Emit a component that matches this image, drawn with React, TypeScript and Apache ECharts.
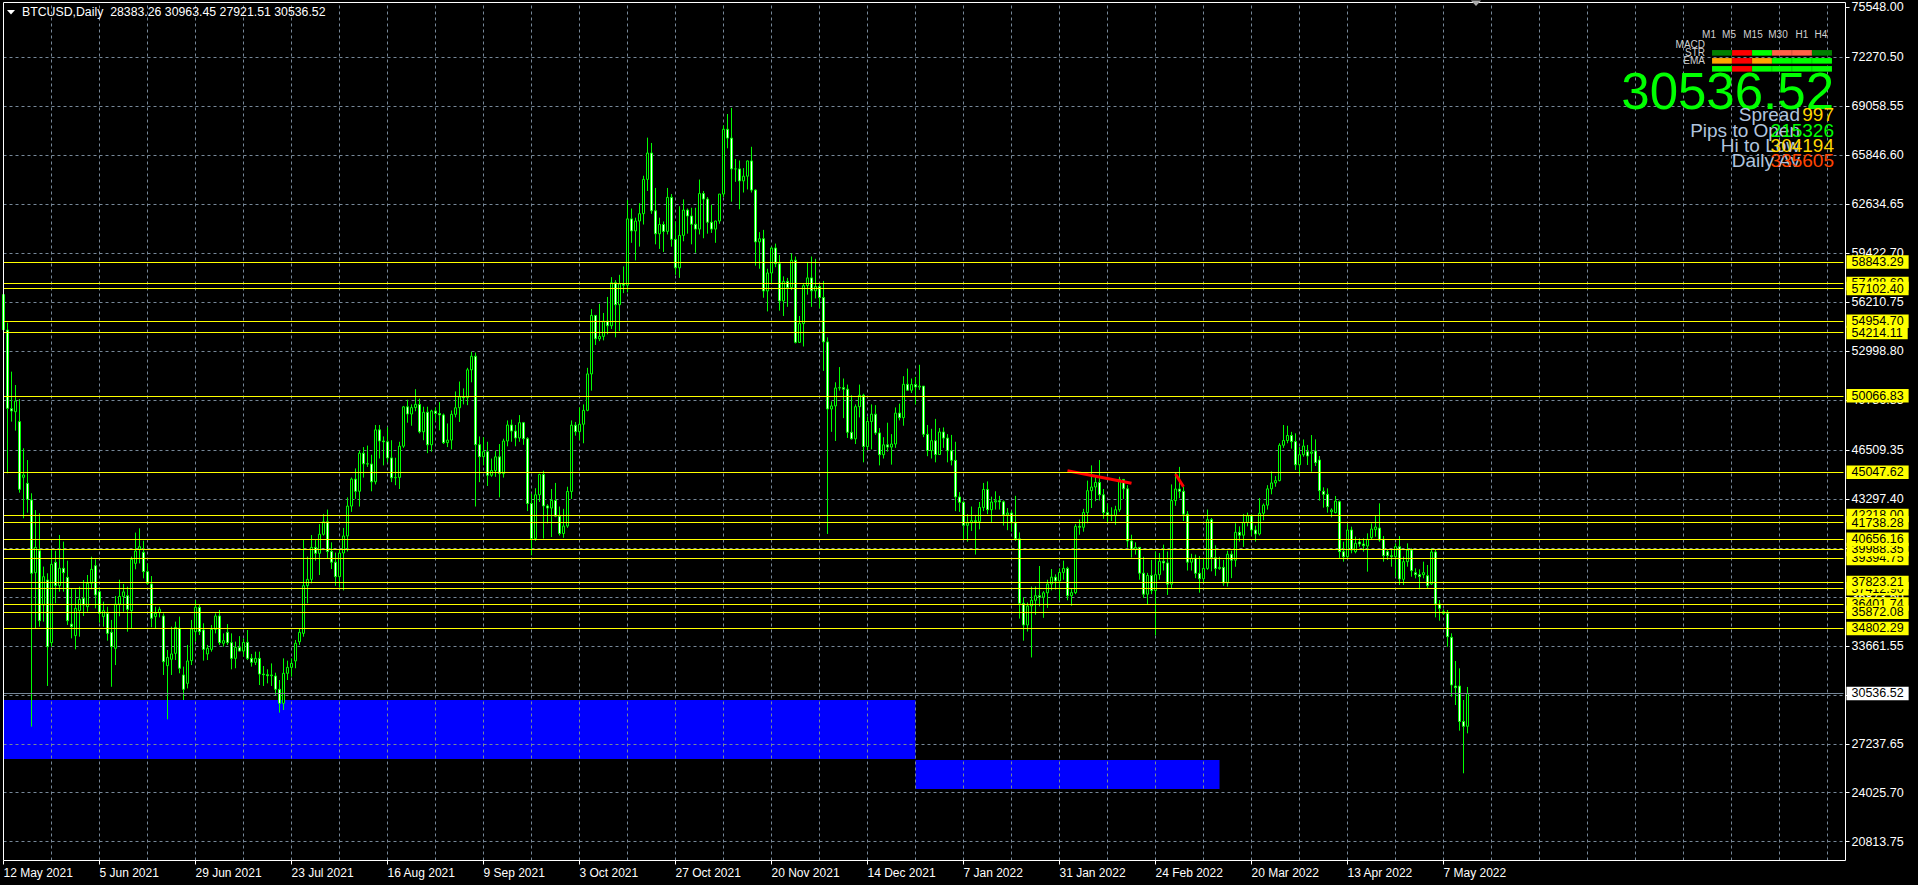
import React, { useEffect, useRef } from 'react';
import * as echarts from 'echarts';

const FONT = '"Liberation Sans", Arial, sans-serif';
const SYMBOL_TITLE = 'BTCUSD,Daily';
const LAST_OHLC = ['28383.26', '30963.45', '27921.51', '30536.52'];
const BID = 30536.52;
const START = [2021, 4, 12];
const TOTAL_SLOTS = 461;
const MONTHS = ['Jan', 'Feb', 'Mar', 'Apr', 'May', 'Jun', 'Jul', 'Aug', 'Sep', 'Oct', 'Nov', 'Dec'];

// [open, high, low, close]
const MAY_2021 = [
  [56700, 57700, 53900, 54400], [54380, 54860, 44980, 49240], [49220, 51650, 48370, 49070], [49020, 50770, 47780, 49720],
  [48370, 49850, 43710, 43930], [44720, 46620, 42030, 44870], [44320, 45850, 42400, 43270], [43230, 43670, 28360, 38420],
  [38460, 42570, 34810, 40120], [39900, 42350, 34920, 35310], [36340, 38860, 35250, 38200], [37980, 38420, 31030, 33610],
  [33870, 39950, 33610, 39010], [39140, 39900, 36450, 37610], [37610, 40930, 37215, 38750], [38750, 40500, 37215, 38460],
  [38155, 39250, 35030, 35310], [35090, 37430, 34150, 34920], [34330, 37370, 33430, 36120], [35970, 37540, 34260, 36710],
];
const JUN_2021 = [
  [36780, 37980, 35620, 36340], [36230, 38310, 35900, 37760], [37760, 39510, 37370, 38680], [38920, 39340, 36120, 37000],
  [37215, 37500, 35180, 35790], [35580, 36560, 34920, 35970], [35790, 36230, 34000, 34480], [34550, 35360, 30980, 33610],
  [33500, 36930, 32400, 36400], [36400, 38000, 35600, 36900], [36900, 37720, 35900, 37200], [36950, 37540, 34590, 36060],
  [35970, 39510, 34810, 39340], [39074, 41090, 38680, 39883], [39990, 41370, 39070, 40170], [39800, 40560, 38090, 38530],
  [38530, 39070, 37650, 37760], [37720, 38240, 34880, 35470], [35580, 36230, 34810, 35790], [35840, 36230, 35530, 36060],
  [35620, 35790, 31750, 32620], [32360, 33390, 28840, 32900], [32780, 34920, 31750, 33130], [33170, 35250, 32730, 34870],
  [34810, 35580, 31860, 32190], [31750, 32300, 30110, 30810], [31200, 33720, 30870, 32670], [32690, 35360, 32400, 34770],
  [34590, 36670, 33940, 36190], [36190, 36400, 34370, 34590],
];
const JUL_2021 = [
  [34700, 35140, 32690, 33430], [33130, 33720, 32730, 33500], [33430, 35030, 33280, 34740], [34740, 35790, 34480, 35620],
  [35620, 36010, 33720, 33870], [33830, 34480, 33610, 34000], [34550, 35090, 33720, 33870], [33870, 34480, 32120, 32840],
  [32840, 33940, 32190, 33560], [33560, 34300, 33300, 33320], [33320, 34150, 32950, 33890], [33890, 34700, 32730, 32840],
  [32840, 33130, 32300, 32580], [32580, 33280, 32400, 32840], [32840, 33280, 31090, 31810], [31810, 32340, 31030, 31770],
  [31770, 32120, 31200, 31700], [31700, 32510, 31030, 31750], [31680, 31900, 30440, 30810], [30810, 31420, 29280, 29890],
  [29890, 32840, 29450, 31860], [31860, 32690, 31420, 32250], [32250, 32840, 31640, 32510], [32670, 34040, 32190, 33830],
  [33930, 34810, 33720, 34550], [34480, 40650, 34260, 37610], [37610, 39510, 36450, 38020], [38020, 40930, 37760, 40120],
  [40120, 40600, 39250, 39730], [39730, 41650, 38310, 40980], [40980, 42300, 40900, 41800],
];
const AUG_2021 = [
  [41800, 42600, 39400, 39850], [39850, 40450, 38700, 39150], [39150, 39780, 37600, 38200], [38200, 39970, 37500, 39750],
  [39750, 41400, 37300, 40870], [40870, 43400, 39850, 42830], [42830, 44700, 42450, 44600], [44600, 45300, 43300, 43800],
  [43800, 46450, 42800, 46300], [46300, 46700, 44700, 45600], [45600, 46800, 45400, 45590], [45590, 46200, 43800, 44420],
  [44420, 48150, 44250, 47830], [47830, 48150, 45950, 47100], [47100, 47400, 45500, 47050], [47050, 48000, 45700, 45990],
  [45990, 47150, 44400, 44690], [44690, 46000, 44200, 44710], [44710, 47050, 43950, 46760], [46760, 49400, 46650, 49340],
  [49340, 49800, 48300, 48870], [48870, 49500, 48100, 49290], [49290, 50500, 49050, 49500], [49500, 49880, 47600, 47700],
  [47700, 49350, 47150, 48990], [48990, 49350, 46300, 46850], [46850, 49150, 46400, 49070], [49070, 49300, 48400, 48900],
  [48900, 49650, 47800, 48810], [48810, 48900, 46900, 46990], [46990, 48250, 46700, 47160],
];
const SEP_2021 = [
  [47160, 49100, 46550, 48850], [48850, 50350, 48650, 49280], [49280, 51000, 48350, 50000], [50000, 50550, 49500, 49940],
  [49940, 51900, 49450, 51770], [51770, 52950, 50950, 52660], [52660, 52900, 42800, 46860], [46860, 47400, 44400, 46070],
  [46070, 47350, 45500, 46400], [46400, 47050, 44150, 44850], [44850, 45950, 44750, 45160], [45160, 46450, 44750, 46060],
  [46060, 46900, 43400, 44960], [44960, 47250, 44700, 47100], [47100, 48450, 46750, 48150], [48150, 48500, 47050, 47750],
  [47750, 48150, 46750, 47300], [47300, 48800, 47050, 48300], [48300, 48350, 46850, 47250], [47250, 47350, 42500, 43000],
  [43000, 43650, 39600, 40700], [40700, 44000, 40550, 43570], [43570, 44950, 43100, 44900], [44900, 45150, 40700, 42840],
  [42840, 42950, 41700, 42700], [42700, 43950, 40800, 43200], [43200, 44350, 42100, 42170], [42170, 42800, 40900, 41030],
  [41030, 42650, 40750, 41520], [41520, 44100, 41400, 43790],
];
const OCT_2021 = [
  [43790, 48450, 43300, 48140], [48140, 48350, 47450, 47710], [47710, 49300, 47150, 48200], [48200, 49500, 46950, 49110],
  [49110, 51900, 49050, 51500], [51500, 55750, 50400, 55340], [55340, 55350, 53400, 53800], [53800, 56100, 53650, 53960],
  [53960, 55500, 53700, 54960], [54960, 56550, 54100, 54660], [54660, 57850, 54450, 57480], [57480, 57650, 53900, 56040],
  [56040, 58000, 54300, 57400], [57400, 58550, 56800, 57320], [57320, 62900, 56850, 61670], [61670, 62350, 60100, 60880],
  [60880, 61750, 58950, 61530], [61530, 62700, 59850, 62010], [62010, 64500, 61300, 64260], [64260, 67000, 63500, 65990],
  [65990, 66650, 62000, 62200], [62200, 63700, 60000, 60690], [60690, 61750, 59700, 61300], [61300, 61500, 59500, 60850],
  [60850, 63700, 60650, 63080], [63080, 63300, 59850, 60330], [60330, 61500, 58000, 58460], [58460, 62500, 57800, 60590],
  [60590, 62950, 60200, 62250], [62250, 62350, 60700, 61860], [61860, 62400, 60000, 61320],
];
const NOV_2021 = [
  [61320, 62400, 59450, 61000], [61000, 64250, 60650, 63330], [63330, 63500, 60400, 62970], [62970, 63100, 60700, 61450],
  [61450, 62600, 60750, 61000], [61000, 61550, 60100, 61530], [61530, 63300, 61350, 63300], [63300, 67800, 63100, 67550],
  [67550, 68550, 66300, 66970], [66970, 68950, 62800, 64950], [64950, 65600, 64100, 64950], [64950, 65500, 62300, 64160],
  [64160, 65000, 63400, 64470], [64470, 65500, 63600, 65470], [65470, 66400, 63400, 63560], [63560, 63600, 58600, 60160],
  [60160, 60800, 58400, 60370], [60370, 60950, 56500, 56940], [56940, 58400, 55600, 58120], [58120, 59850, 57400, 59760],
  [59760, 60050, 58500, 58730], [58730, 59300, 55650, 56290], [56290, 57900, 55300, 57570], [57570, 57800, 55900, 57170],
  [57170, 59400, 57000, 58960], [58960, 59200, 53500, 53570], [53570, 55300, 53550, 54800], [54800, 57400, 53300, 57290],
  [57290, 58850, 56700, 57800], [57800, 59200, 55900, 56950],
];
const DEC_2021 = [
  [56950, 59050, 56450, 57230], [57230, 57400, 55800, 56510], [56510, 57600, 51700, 53600], [53600, 53900, 41000, 49200],
  [49200, 49700, 47700, 49400], [49400, 50950, 47100, 50580], [50580, 51950, 50400, 50600], [50600, 51200, 48600, 50500],
  [50500, 50800, 47300, 47670], [47670, 50100, 47200, 47240], [47240, 49500, 46900, 49350], [49350, 50800, 48650, 50100],
  [50100, 50200, 45700, 46740], [46740, 48700, 46500, 48380], [48380, 49500, 46550, 48860], [48860, 49450, 47500, 47630],
  [47630, 47950, 45500, 46200], [46200, 47350, 45950, 46850], [46850, 48300, 46400, 46700], [46700, 47550, 45550, 46900],
  [46900, 49300, 46650, 48930], [48930, 49550, 48450, 48630], [48630, 51350, 48100, 50820], [50820, 51850, 50450, 50430],
  [50430, 51200, 50250, 50800], [50800, 51300, 49500, 50640], [50640, 52100, 50450, 50700], [50700, 50700, 47350, 47540],
  [47540, 48150, 46100, 46470], [46470, 47900, 45950, 47120], [47120, 48550, 45700, 46210],
];
const JAN_2022 = [
  [46210, 47950, 46200, 47690], [47690, 47990, 46650, 47290], [47290, 47550, 45700, 46460], [46460, 47500, 45500, 45830],
  [45830, 47050, 42500, 43430], [43430, 43750, 42450, 43080], [43080, 43150, 40600, 41570], [41570, 42300, 40500, 41730],
  [41730, 42800, 41200, 41870], [41870, 42250, 39650, 41820], [41820, 43100, 41300, 42740], [42740, 44350, 42500, 43920],
  [43920, 44450, 42300, 42590], [42590, 43450, 41750, 43100], [43100, 43800, 42600, 43180], [43180, 43500, 42600, 43110],
  [43110, 43200, 41550, 42250], [42250, 42700, 41250, 42375], [42375, 42550, 41150, 41740], [41740, 43500, 40550, 40680],
  [40680, 41100, 35450, 36450], [36450, 36850, 34000, 35030], [35030, 36500, 34600, 36280], [36280, 37550, 32900, 36650],
  [36650, 37550, 35700, 36950], [36950, 38900, 36250, 36850], [36850, 37250, 35500, 37140], [37140, 38000, 36150, 37720],
  [37720, 38700, 37300, 38170], [38170, 38350, 37350, 37920], [37920, 38750, 36650, 38480],
];
const FEB_2022 = [
  [38480, 39250, 38000, 38740], [38740, 38850, 36650, 36950], [36950, 37400, 36300, 37150], [37150, 41650, 37050, 41500],
  [41500, 41950, 40950, 41440], [41440, 42650, 41150, 42410], [42410, 44500, 41700, 43840], [43840, 45500, 42700, 44080],
  [44080, 44800, 43150, 44380], [44380, 45850, 43200, 43570], [43570, 43950, 42000, 42400], [42400, 43000, 41750, 42240],
  [42240, 42750, 41850, 42200], [42200, 42850, 41600, 42590], [42590, 44750, 42450, 44580], [44580, 44580, 43300, 43960],
  [43960, 44200, 40100, 40540], [40540, 40950, 39450, 40000], [40000, 40450, 39650, 40120], [40120, 40150, 38000, 38430],
  [38430, 39500, 36800, 37050], [37050, 38450, 36400, 38280], [38280, 39300, 37050, 37290], [37290, 39850, 34350, 38330],
  [38330, 39750, 38000, 39210], [39210, 40300, 38600, 39100], [39100, 39850, 37000, 37710], [37710, 44250, 37450, 43190],
];
const MAR_2022 = [
  [43190, 45000, 42850, 43950], [43950, 45400, 43350, 43800], [43800, 44100, 41850, 42300], [42300, 42500, 38600, 39150],
  [39150, 39700, 38600, 39400], [39400, 39650, 38100, 38420], [38420, 39550, 37150, 38060], [38060, 39350, 37850, 38740],
  [38740, 42600, 38650, 41940], [41940, 42050, 38550, 39440], [39440, 40250, 38250, 38730], [38730, 39500, 38650, 38810],
  [38810, 39300, 37600, 37790], [37790, 39900, 37550, 39670], [39670, 39900, 38100, 39280], [39280, 41700, 38850, 41110],
  [41110, 41500, 40500, 40920], [40920, 42300, 40150, 41760], [41760, 42400, 41500, 42200], [42200, 42300, 40900, 41260],
  [41260, 41550, 40500, 41000], [41000, 43350, 40900, 42360], [42360, 43000, 41900, 42890], [42890, 44200, 42600, 43960],
  [43960, 45100, 43600, 44350], [44350, 44800, 44100, 44500], [44500, 46950, 44450, 46820], [46820, 48150, 46650, 47130],
  [47130, 48100, 46950, 47460], [47460, 47700, 46600, 47060], [47060, 47600, 45200, 45540],
];
const APR_2022 = [
  [45540, 46700, 44900, 46200], [46200, 47200, 46070, 46770], [46400, 46840, 45525, 46115], [46290, 47490, 45090, 46378],
  [46443, 47210, 45460, 45678], [45853, 46115, 43185, 43841], [43800, 44060, 42726, 43600], [43600, 43994, 42398, 42792],
  [42463, 42682, 42092, 42573], [42400, 43491, 42354, 43160], [43119, 43185, 39402, 39840], [39840, 40490, 39184, 39512],
  [39512, 41654, 39402, 41261], [41261, 41480, 39730, 39949], [39840, 40824, 39730, 40387], [40474, 40714, 40168, 40343],
  [40343, 40714, 39840, 40233], [40211, 41042, 38527, 40649], [40758, 41698, 40605, 41326], [41282, 42179, 40823, 41457],
  [41392, 43010, 40495, 40605], [40649, 40867, 39184, 39578], [39840, 39950, 39293, 39578], [39578, 39950, 38856, 39512],
  [39512, 40386, 38199, 40168], [40168, 40867, 37653, 38046], [38024, 39512, 37653, 39184], [39184, 40386, 38856, 39949],
  [39949, 40059, 38199, 38593], [38461, 38746, 38090, 38331],
];
const MAY_2022 = [
  [38331, 38680, 37368, 38200], [38331, 39184, 38090, 38461], [38265, 38965, 37434, 37609], [37719, 40059, 37653, 39818],
  [39818, 39949, 35531, 36406], [36406, 36668, 35313, 36122], [35903, 36056, 35684, 35794], [35794, 36012, 33607, 34263],
  [34220, 34482, 30327, 31092], [31026, 32667, 29780, 30918], [31026, 32187, 28096, 28700], [28700, 30108, 25300, 28383],
  [28383.26, 30963.45, 27921.51, 30536.52],
];

const GRID_PRICES = [75548.0, 72270.5, 69058.55, 65846.6, 62634.65, 59422.7, 56210.75, 52998.8, 49786.85, 46509.35,
  43297.4, 40085.45, 36873.5, 33661.55, 30449.6, 27237.65, 24025.7, 20813.75];
const LEVELS = [58843.29, 57438.6, 57102.4, 54954.7, 54214.11, 50066.83, 45047.62, 42218.0, 41738.28,
  39394.75, 39988.35, 40656.16, 37412.9, 37823.21, 36401.74, 35872.08, 34802.29];
// [fromIndex, toIndex, topPrice, bottomPrice]
const ZONES = [[0, 228, 30109, 26239], [228, 304, 26173, 24271]];
// [[index, price], [index, price]]
const TRENDS = [[[266, 45151], [282, 44324]], [[293, 44935], [295, 44102]]];

const TIMEFRAMES = ['M1', 'M5', 'M15', 'M30', 'H1', 'H4'];
const TF_X = [1709, 1729, 1753, 1778, 1802, 1821];
const SIGNAL_NAMES = ['MACD', 'STR', 'EMA'];
const SIGNAL_COLORS = [
  ['#008000', '#ff0000', '#00ff00', '#ff6347', '#ff6347', '#008000'],
  ['#ffa500', '#ff0000', '#ffa500', '#00ff00', '#00ff00', '#00ff00'],
  ['#00ff00', '#ff0000', '#00ff00', '#00ff00', '#00ff00', '#00ff00'],
];
const INFO_ROWS = [
  ['Spread', '997', '#ffd700'],
  ['Pips to Open', '215326', '#00ff00'],
  ['Hi to Low', '304194', '#ffd700'],
  ['Daily Av', '335605', '#ff4500'],
];

const Y_MIN = 19580;
const Y_MAX = 75865;

export default function App() {
  const ref = useRef<HTMLDivElement>(null);

  useEffect(() => {
    if (!ref.current) return;
    const chart = echarts.init(ref.current, undefined, { renderer: 'svg' });

    const candles = [...MAY_2021, ...JUN_2021, ...JUL_2021, ...AUG_2021, ...SEP_2021, ...OCT_2021, ...NOV_2021,
      ...DEC_2021, ...JAN_2022, ...FEB_2022, ...MAR_2022, ...APR_2022, ...MAY_2022];
    const nBars = candles.length;
    const cats: string[] = [];
    for (let i = 0; i < TOTAL_SLOTS; i++) {
      const d = new Date(Date.UTC(START[0], START[1], START[2] + i));
      cats.push(`${d.getUTCDate()} ${MONTHS[d.getUTCMonth()]} ${d.getUTCFullYear()}`);
    }
    const ohlc = candles.map(([o, h, l, c]) => [o, c, l, h]);
    const closes = candles.map((r) => r[3]);

    const gridLines: any[] = GRID_PRICES.map((p, i) => ({
      yAxis: p,
      label: { formatter: p.toFixed(2), color: '#ffffff', opacity: 1 },
      lineStyle: i === 0 ? { color: 'rgba(0,0,0,0)', type: 'solid' } : undefined,
    }));
    for (let i = 12; i < TOTAL_SLOTS; i += 12) {
      gridLines.push({ xAxis: cats[i], label: { show: false } });
    }

    const levelLines: any[] = LEVELS.map((p) => ({ yAxis: p, label: { formatter: p.toFixed(2) } }));
    levelLines.push({
      yAxis: BID,
      lineStyle: { color: '#778899', type: 'solid', width: 1 },
      label: { formatter: BID.toFixed(2), backgroundColor: '#ffffff', color: '#000' },
    });

    const labelInterval = (i: number) => i % 24 === 0 && i < nBars;

    const graphics: any[] = [
      { type: 'rect', z: 100, silent: true, shape: { x: 3.5, y: 2.5, width: 1842, height: 858 },
        style: { fill: 'none', stroke: '#ffffff', lineWidth: 1 } },
      { type: 'polygon', z: 100, silent: true, shape: { points: [[7, 10], [15, 10], [11, 14.5]] }, style: { fill: '#ffffff' } },
      { type: 'text', z: 100, silent: true, x: 22, y: 12,
        style: { text: `${SYMBOL_TITLE}  ${LAST_OHLC.join(' ')}`, fill: '#ffffff', fontSize: 12.3, fontFamily: FONT, verticalAlign: 'middle' } },
      { type: 'polygon', z: 100, silent: true, shape: { points: [[1471, 0.5], [1481, 0.5], [1476, 6]] }, style: { fill: '#a9a9a9' } },
    ];
    TIMEFRAMES.forEach((t, i) => {
      graphics.push({ type: 'text', z: 100, silent: true, x: TF_X[i], y: 34,
        style: { text: t, fill: '#d0d0d0', fontSize: 10, fontFamily: FONT, align: 'center', verticalAlign: 'middle' } });
    });
    SIGNAL_NAMES.forEach((s, r) => {
      graphics.push({ type: 'text', z: 100, silent: true, x: 1705, y: 44 + r * 8,
        style: { text: s, fill: '#d0d0d0', fontSize: 10, fontFamily: FONT, align: 'right', verticalAlign: 'middle' } });
    });
    SIGNAL_COLORS.forEach((row, r) => {
      row.forEach((c, k) => {
        graphics.push({ type: 'rect', z: 100, silent: true,
          shape: { x: 1712 + k * 20, y: 50 + r * 8, width: 20, height: 5.7 },
          style: { fill: c, stroke: 'rgba(0,0,0,0.25)', lineWidth: 0.5 } });
      });
    });
    graphics.push({ type: 'text', z: 101, silent: true, x: 1834, y: 91,
      style: { text: BID.toFixed(2), fill: '#00ff00', fontSize: 51, fontFamily: FONT, align: 'right', verticalAlign: 'middle' } });
    const infoY = [114, 130, 145, 160];
    INFO_ROWS.forEach(([label], i) => {
      graphics.push({ type: 'text', z: 101, silent: true, x: 1800, y: infoY[i],
        style: { text: label, fill: '#b0c4de', fontSize: 19, fontFamily: FONT, align: 'right', verticalAlign: 'middle' } });
    });
    INFO_ROWS.forEach(([, value, color], i) => {
      graphics.push({ type: 'text', z: 102, silent: true, x: 1834, y: infoY[i],
        style: { text: value, fill: color, fontSize: 19, fontFamily: FONT, align: 'right', verticalAlign: 'middle' } });
    });

    const option: any = {
      animation: false,
      backgroundColor: '#000000',
      textStyle: { fontFamily: FONT },
      grid: { left: 3.5, top: 2.5, width: 1840, height: 858, containLabel: false },
      xAxis: {
        type: 'category',
        data: cats,
        boundaryGap: false,
        axisLine: { show: false },
        axisTick: { show: true, interval: labelInterval, length: 4, lineStyle: { color: '#ffffff' } },
        axisLabel: { interval: labelInterval, color: '#ffffff', fontSize: 12, fontFamily: FONT, align: 'left', margin: 6 },
        splitLine: { show: false },
      },
      yAxis: {
        type: 'value',
        position: 'right',
        offset: 2,
        min: Y_MIN,
        max: Y_MAX,
        axisLine: { show: false },
        axisLabel: { show: false },
        splitLine: { show: false },
        axisTick: { show: true, customValues: GRID_PRICES, length: 4, lineStyle: { color: '#ffffff' } },
      },
      series: [
        {
          type: 'line',
          name: 'grid',
          data: closes,
          showSymbol: false,
          silent: true,
          z: 1,
          lineStyle: { opacity: 0 },
          markLine: {
            silent: true,
            z: 2,
            symbol: ['none', 'none'],
            lineStyle: { color: '#778899', type: [3, 3], width: 1 },
            label: { show: true, position: 'end', color: '#ffffff', fontSize: 12.5, fontFamily: FONT, distance: 3, padding: [0, 5] },
            emphasis: { disabled: true },
            data: gridLines,
          },
        },
        {
          type: 'candlestick',
          name: 'BTCUSD',
          data: ohlc,
          barWidth: 2,
          z: 3,
          silent: true,
          itemStyle: { color: '#000000', color0: '#ffffff', borderColor: '#00ff00', borderColor0: '#00ff00', borderWidth: 1 },
          markArea: {
            silent: true,
            z: 1,
            itemStyle: { color: '#0000ff' },
            data: ZONES.map(([a, b, top, bottom]) => [{ xAxis: cats[a], yAxis: top }, { xAxis: cats[b], yAxis: bottom }]),
          },
          markLine: {
            silent: true,
            z: 5,
            symbol: ['none', 'none'],
            lineStyle: { color: '#ffff00', type: 'solid', width: 1 },
            label: { show: true, position: 'end', color: '#000000', backgroundColor: '#ffff00', fontSize: 12.5,
              fontFamily: FONT, distance: 3, padding: [1, 5, 0, 5], lineHeight: 12.5 },
            emphasis: { disabled: true },
            data: levelLines,
          },
        },
        ...TRENDS.map((t) => ({
          type: 'line',
          data: t.map(([i, p]) => [cats[i], p]),
          showSymbol: false,
          symbol: 'none',
          silent: true,
          z: 4,
          lineStyle: { color: '#ff0000', width: 3 },
        })),
      ],
      graphic: graphics,
    };

    chart.setOption(option);
    return () => chart.dispose();
  }, []);

  return (
    <div
      ref={ref}
      style={{ position: 'fixed', left: 0, top: 0, width: '1918px', height: '885px', background: '#000' }}
    />
  );
}
